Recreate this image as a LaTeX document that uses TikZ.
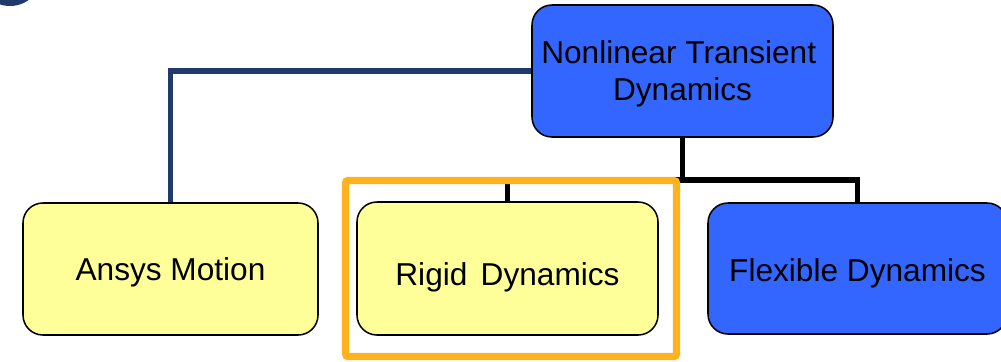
\documentclass[tikz,border=0pt]{standalone}
\usepackage{fontspec}
\setmainfont{Liberation Sans}
\usetikzlibrary{backgrounds}
\definecolor{boxblue}{RGB}{51,102,255}
\definecolor{boxyellow}{RGB}{255,255,153}
\definecolor{linkblue}{RGB}{31,58,107}
\definecolor{frameorange}{RGB}{255,178,30}
\begin{document}
\begin{tikzpicture}[x=0.03cm,y=-0.03cm,
  box/.style={draw=black,line width=1.3pt,rounded corners=17pt,inner sep=0pt,
    font=\fontsize{27}{31.6}\selectfont},
  bluebox/.style={box,fill=boxblue},
  yellowbox/.style={box,fill=boxyellow},
  blink/.style={draw=linkblue,line width=4.3pt},
  klink/.style={draw=black,line width=4.3pt},
  hiframe/.style={draw=frameorange,line width=6pt,rounded corners=2pt}]
\useasboundingbox (0,0) rectangle (1001,361);
\begin{scope}
\clip (0,0) rectangle (1001,361);
\fill[linkblue] (10,-26) circle (32);
\end{scope}
\node[bluebox,minimum width=301*0.03cm,minimum height=132*0.03cm] (top) at (682.5,71)
  {\raisebox{6.8pt}[0pt][0pt]{\begin{tabular}[t]{@{}c@{}}Nonlinear Transient\hspace*{6.5pt}\\Dynamics\end{tabular}}};
\node[yellowbox,minimum width=295*0.03cm,minimum height=132*0.03cm] (motion) at (170.5,269)
  {\raisebox{-9.4pt}[0pt][0pt]{Ansys Motion}};
\node[yellowbox,minimum width=301*0.03cm,minimum height=133*0.03cm] (rigid) at (507.5,268.5)
  {\raisebox{-14.9pt}[0pt][0pt]{Rigid\hspace{0.42em}Dynamics}};
\node[bluebox,minimum width=299*0.03cm,minimum height=131*0.03cm] (flex) at (857.5,268.5)
  {\raisebox{-10.7pt}[0pt][0pt]{Flexible Dynamics}};
\coordinate (j) at (682.5,180);
\begin{scope}[on background layer]
\draw[blink] (top.west) -| (motion.north);
\draw[klink] (top.south) -- (j) -| (flex.north);
\draw[klink] (j) -| (rigid.north);
\end{scope}
\draw[hiframe] (345.5,180.5) rectangle (676.5,356.5);
\end{tikzpicture}
\end{document}
